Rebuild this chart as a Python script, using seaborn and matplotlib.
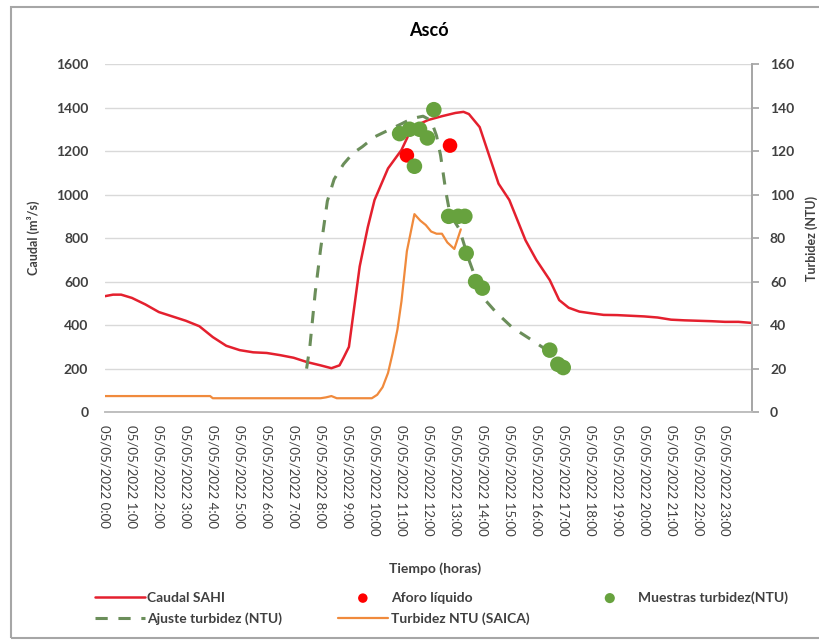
import matplotlib
matplotlib.use('Agg')
import matplotlib.pyplot as plt
import matplotlib.patches as mpatches
import seaborn as sns

# datos (horas del 05/05/2022)
caudal_h = [0, 0.3, 0.6, 1.0, 1.5, 2.0, 2.5, 3.0, 3.5, 4.0, 4.5, 5.0, 5.5, 6.0, 6.5, 7.0,
            7.5, 8.0, 8.4, 8.7, 8.85, 9.05, 9.45, 9.75, 10.0, 10.5, 11.0, 11.4, 12.0,
            12.5, 13.0, 13.3, 13.5, 13.9, 14.6, 15.0, 15.6, 16.0, 16.5, 16.85, 17.2,
            17.6, 18.0, 18.5, 19.0, 19.5, 20.0, 20.5, 21.0, 21.5, 22.0, 22.5, 23.0,
            23.5, 24.0]
caudal = [533, 540, 540, 525, 495, 460, 440, 420, 395, 345, 305, 285, 275, 272, 262, 250,
          230, 215, 202, 215, 250, 300, 670, 850, 975, 1120, 1205, 1310, 1343,
          1360, 1375, 1380, 1370, 1310, 1050, 975, 790, 700, 607, 515, 480,
          462, 455, 447, 446, 443, 440, 435, 425, 422, 420, 418, 415,
          415, 410]

saica_h = [0, 3.9, 4.0, 8.0, 8.2, 8.4, 8.6, 9.9, 10.1, 10.3, 10.5, 10.67, 10.85, 11.0,
           11.2, 11.48, 11.7, 11.9, 12.1, 12.3, 12.5, 12.7, 12.96, 13.2]
saica = [7.4, 7.4, 6.4, 6.4, 6.8, 7.4, 6.4, 6.4, 8.0, 11.5, 18, 27, 38, 51,
         74, 91, 88, 86, 83, 82, 82, 78, 75, 84]

ajuste_h = [7.48, 7.6, 7.8, 8.0, 8.25, 8.5, 8.85, 9.2, 9.55, 10.0, 10.5, 11.0, 11.4,
            11.8, 12.1, 12.3, 12.45, 12.65, 12.8, 13.15, 13.5, 14.0, 14.5, 15.1,
            15.85, 16.45]
ajuste = [20, 30, 55, 75, 97, 107, 114, 119, 122, 126.5, 129.5, 132.5, 135,
          136, 134, 127, 118, 101, 91, 84, 70, 53, 46, 39, 33, 28]

muestras_h = [10.93, 11.3, 11.48, 11.67, 11.96, 12.2, 12.75, 13.1, 13.35, 13.4,
              13.75, 14.0, 16.5, 16.8, 17.0]
muestras = [128, 130, 113, 130, 126, 139, 90, 90, 90, 73, 60, 57, 28.5, 22, 20.5]

aforo_h = [11.2, 12.8]
aforo = [1180, 1225]

horas = list(range(24))
etiquetas = [f'05/05/2022 {h}:00' for h in horas]

sns.set_theme(style='white')
plt.rcParams['font.family'] = ['Lato', 'DejaVu Sans']
txt = '#404040'

fig = plt.figure(figsize=(8.2, 6.43), dpi=100)
ax = fig.add_axes([0.128, 0.359, 0.789, 0.5415])
ax2 = ax.twinx()

# caudal (eje izquierdo)
sns.lineplot(x=caudal_h, y=caudal, ax=ax, color='#E4202E', lw=1.8, label='Caudal SAHI',
             legend=False, zorder=3)
sns.scatterplot(x=aforo_h, y=aforo, ax=ax, color='#FF0000', s=110, edgecolor='none',
                label='Aforo líquido', legend=False, zorder=4)

# turbidez (eje derecho)
sns.lineplot(x=ajuste_h, y=ajuste, ax=ax2, color='#6B8E5A', lw=2.2, dashes=(4, 3.5),
             label='Ajuste turbidez (NTU)', legend=False)
sns.lineplot(x=saica_h, y=saica, ax=ax2, color='#F08A3C', lw=1.6,
             label='Turbidez NTU (SAICA)', legend=False)
sns.scatterplot(x=muestras_h, y=muestras, ax=ax2, color='#67A23E', s=125, edgecolor='none',
                label='Muestras turbidez(NTU)', legend=False, zorder=5)

ax.set_xlim(0, 24)
ax.set_ylim(0, 1600)
ax2.set_ylim(0, 160)
ax.set_yticks(range(0, 1601, 200))
ax2.set_yticks(range(0, 161, 20))
ax.set_xticks(horas)
ax.set_xticklabels(etiquetas, rotation=-90, fontsize=9.5, color=txt, va='top', ha='center')
ax.set_xticks(horas + [24], minor=True)
ax.grid(True, which='minor', axis='x', color='#D9D9D9', lw=1)
ax.grid(True, which='major', axis='y', color='#D9D9D9', lw=1)
ax.tick_params(axis='y', length=0, labelsize=10, labelcolor=txt, pad=12)
ax.tick_params(axis='x', which='both', length=0, pad=9)
ax2.tick_params(axis='y', length=5, color='#A6A6A6', labelsize=10, labelcolor=txt, pad=8)
for lab in ax.get_yticklabels() + ax2.get_yticklabels():
    lab.set_fontweight('bold')

for a in (ax, ax2):
    for s in ('top', 'left'):
        a.spines[s].set_visible(False)
    a.spines['bottom'].set_color('#BFBFBF')
    a.spines['right'].set_color('#A6A6A6')
ax.set_axisbelow(True)

ax.set_title('Ascó', fontsize=13, fontweight='bold', color='black', pad=20)
ax.set_ylabel('Caudal (m³/s)', fontsize=9, fontweight='bold', color=txt)
ax.yaxis.set_label_coords(-0.1, 0.5)
ax2.set_ylabel('Turbidez (NTU)', fontsize=9, fontweight='bold', color=txt, rotation=90)
ax2.yaxis.set_label_coords(1.082, 0.5)
ax.set_xlabel('Tiempo (horas)', fontsize=10, fontweight='bold', color=txt)
ax.xaxis.set_label_coords(0.51, -0.43)

# leyenda
h1, l1 = ax.get_legend_handles_labels()
h2, l2 = ax2.get_legend_handles_labels()
hd = dict(zip(l1 + l2, h1 + h2))
orden = ['Caudal SAHI', 'Ajuste turbidez (NTU)', 'Aforo líquido', 'Turbidez NTU (SAICA)',
         'Muestras turbidez(NTU)']
leg = fig.legend([hd[k] for k in orden], orden, loc='upper left', ncol=3,
                 bbox_to_anchor=(0.1, 0.1), frameon=False, fontsize=10,
                 handlelength=3.6, handletextpad=0.2, columnspacing=4,
                 labelspacing=0.6, markerscale=0.65)
for t in leg.get_texts():
    t.set_color(txt)
    t.set_fontweight('bold')

# borde del área del gráfico
fig.patches.append(mpatches.Rectangle((0.0134, 0.0078), 1.0, 0.981, transform=fig.transFigure,
                                      fill=False, edgecolor='#A6A6A6', lw=1.5))

fig.savefig('out.png', dpi=100)
